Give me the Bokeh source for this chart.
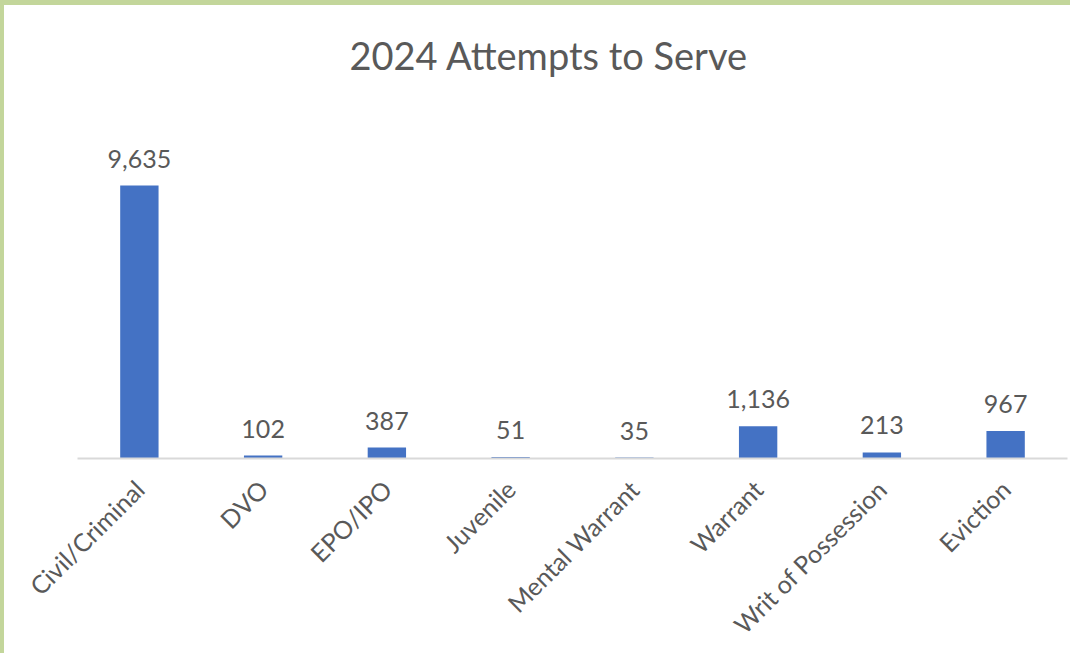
from bokeh.plotting import figure
from bokeh.models import ColumnDataSource, Range1d, FactorRange
from bokeh.core.properties import value
from bokeh.embed import file_html
from bokeh.resources import INLINE
import math

categories = ["Civil/Criminal", "DVO", "EPO/IPO", "Juvenile", "Mental Warrant",
              "Warrant", "Writ of Possession", "Eviction"]
attempts = [9635, 102, 387, 51, 35, 1136, 213, 967]
labels = [f"{v:,}" for v in attempts]
title_text = "2024 Attempts to Serve"
y_max = 12600

FONT = "Lato"
TXT = "#595959"

src = ColumnDataSource(dict(cat=categories, val=attempts, lab=labels))

p = figure(width=1070, height=653, output_backend="svg", toolbar_location=None,
           x_range=FactorRange(*categories, range_padding=0), y_range=Range1d(0, y_max),
           y_axis_location=None, title=title_text,
           min_border_left=73, min_border_right=7, min_border_bottom=200, min_border_top=94)
p.styles = {"border-top": "5px solid #c3d69b", "border-left": "4px solid #c3d69b"}

p.title.align = "left"
p.title.offset = 272
p.title.text_font = FONT
p.title.text_font_size = "38px"
p.title.text_font_style = "normal"
p.title.text_color = TXT
p.title.standoff = 48

p.vbar(x="cat", top="val", width=0.31, source=src, fill_color="#4472C4", line_color=None)
p.text(x="cat", y="val", text="lab", source=src, text_align="center",
       text_baseline="alphabetic", y_offset=-27, text_font=value(FONT),
       text_font_size="25px", text_color=TXT)

ax = p.xaxis[0]
ax.axis_line_color = "#d9d9d9"
ax.axis_line_width = 2
ax.major_tick_line_color = None
ax.minor_tick_line_color = None
ax.major_label_orientation = math.pi / 4
ax.major_label_text_font = FONT
ax.major_label_text_font_size = "25px"
ax.major_label_text_color = TXT
ax.major_label_standoff = 20

p.xgrid.visible = False
p.ygrid.visible = False
p.outline_line_color = None
p.background_fill_color = "white"
p.border_fill_color = "white"

open("out.html", "w").write(file_html(p, INLINE))
